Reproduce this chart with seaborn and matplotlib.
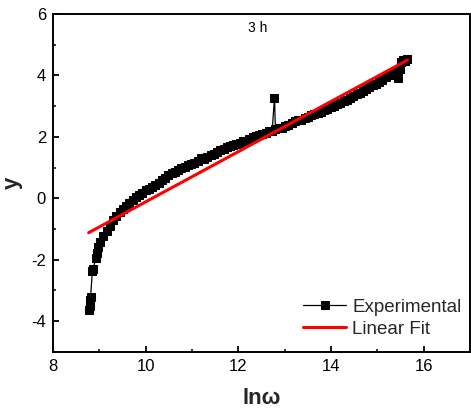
import matplotlib
matplotlib.use("Agg")
import matplotlib.pyplot as plt
import seaborn as sns
import pandas as pd
from matplotlib.ticker import MultipleLocator

sns.set_theme(style="ticks")
plt.rcParams['font.family'] = ['Liberation Sans', 'DejaVu Sans']
plt.rcParams['axes.unicode_minus'] = False

ln_w = [8.78, 8.79, 8.80, 8.81, 8.85, 8.87, 8.92, 8.95, 8.98,
        9.02, 9.09, 9.16, 9.23, 9.30, 9.37, 9.44, 9.51, 9.58, 9.65,
        9.72, 9.79, 9.86, 9.93, 10.00, 10.07, 10.14, 10.21, 10.28, 10.35,
        10.42, 10.49, 10.56, 10.63, 10.70, 10.77, 10.84, 10.91, 10.98, 11.05,
        11.12, 11.19, 11.26, 11.33, 11.40, 11.47, 11.54, 11.61, 11.68, 11.75,
        11.82, 11.89, 11.96, 12.03, 12.10, 12.17, 12.24, 12.31, 12.38, 12.45,
        12.52, 12.59, 12.66, 12.73, 12.78, 12.80, 12.87, 12.94, 13.01, 13.08,
        13.15, 13.22, 13.29, 13.36, 13.43, 13.50, 13.57, 13.64, 13.71, 13.78,
        13.85, 13.92, 13.99, 14.06, 14.13, 14.20, 14.27, 14.34, 14.41, 14.48,
        14.55, 14.62, 14.69, 14.76, 14.83, 14.90, 14.97, 15.04, 15.11, 15.18,
        15.25, 15.32, 15.39, 15.44, 15.48, 15.52, 15.56, 15.60, 15.64]
y_exp = [-3.62, -3.50, -3.30, -3.22, -2.38, -2.30, -1.95, -1.78, -1.60,
         -1.42, -1.22, -1.05, -0.90, -0.72, -0.58, -0.45, -0.36, -0.24, -0.14,
         -0.04, 0.04, 0.10, 0.18, 0.28, 0.30, 0.38, 0.44, 0.50, 0.58,
         0.66, 0.76, 0.82, 0.86, 0.92, 1.00, 1.02, 1.08, 1.12, 1.16,
         1.22, 1.30, 1.28, 1.36, 1.40, 1.44, 1.50, 1.56, 1.60, 1.66,
         1.70, 1.74, 1.78, 1.80, 1.86, 1.88, 1.94, 1.98, 2.02, 2.06,
         2.10, 2.14, 2.18, 2.20, 3.28, 2.24, 2.28, 2.30, 2.36, 2.40,
         2.46, 2.50, 2.54, 2.56, 2.62, 2.66, 2.70, 2.74, 2.78, 2.82,
         2.86, 2.90, 2.96, 3.00, 3.06, 3.10, 3.16, 3.20, 3.28, 3.32,
         3.40, 3.44, 3.50, 3.56, 3.62, 3.68, 3.72, 3.80, 3.86, 3.94,
         4.00, 4.08, 4.12, 3.92, 4.20, 4.45, 4.50, 4.48, 4.52]

# Linear fit endpoints
fit_x = [8.77, 15.65]
fit_y = [-1.12, 4.50]

exp_df = pd.DataFrame({"lnw": ln_w, "y": y_exp})
fit_df = pd.DataFrame({"lnw": fit_x, "y": fit_y})

fig = plt.figure(figsize=(4.71, 4.16), dpi=100)
ax = fig.add_axes([0.1125, 0.154, 0.8855, 0.8125])

sns.lineplot(data=exp_df, x="lnw", y="y", ax=ax, color="black", linewidth=0.9,
             marker="s", markersize=6.2, markeredgecolor="black",
             markerfacecolor="black", sort=False, estimator=None,
             label="Experimental")
sns.lineplot(data=fit_df, x="lnw", y="y", ax=ax, color="#ff0000", linewidth=2.2,
             sort=False, estimator=None, label="Linear Fit")

ax.set_xlim(8, 17)
ax.set_ylim(-5, 6)
ax.xaxis.set_major_locator(MultipleLocator(2))
ax.xaxis.set_minor_locator(MultipleLocator(1))
ax.yaxis.set_major_locator(MultipleLocator(2))
ax.yaxis.set_minor_locator(MultipleLocator(1))
ax.tick_params(which="major", direction="in", length=4, width=1.3,
               labelsize=12, colors="black", pad=5, top=False, right=False)
ax.tick_params(which="minor", direction="in", length=2.2, width=1.3,
               top=False, right=False)
for s in ax.spines.values():
    s.set_linewidth(1.4)
    s.set_color("black")

ax.set_xlabel("lnω", fontsize=16, fontweight="bold", labelpad=10)
ax.set_ylabel("y", fontsize=16, fontweight="bold", labelpad=6)

ax.text(0.49, 0.957, "3 h", transform=ax.transAxes, ha="center", va="center",
        fontsize=10, color="black")

leg = ax.legend(loc="lower right", bbox_to_anchor=(1.006, 0.008), frameon=False,
                fontsize=13.5, handlelength=2.3, handletextpad=0.3,
                labelspacing=0.28, borderaxespad=0.2)

fig.savefig("out.png", dpi=100)
